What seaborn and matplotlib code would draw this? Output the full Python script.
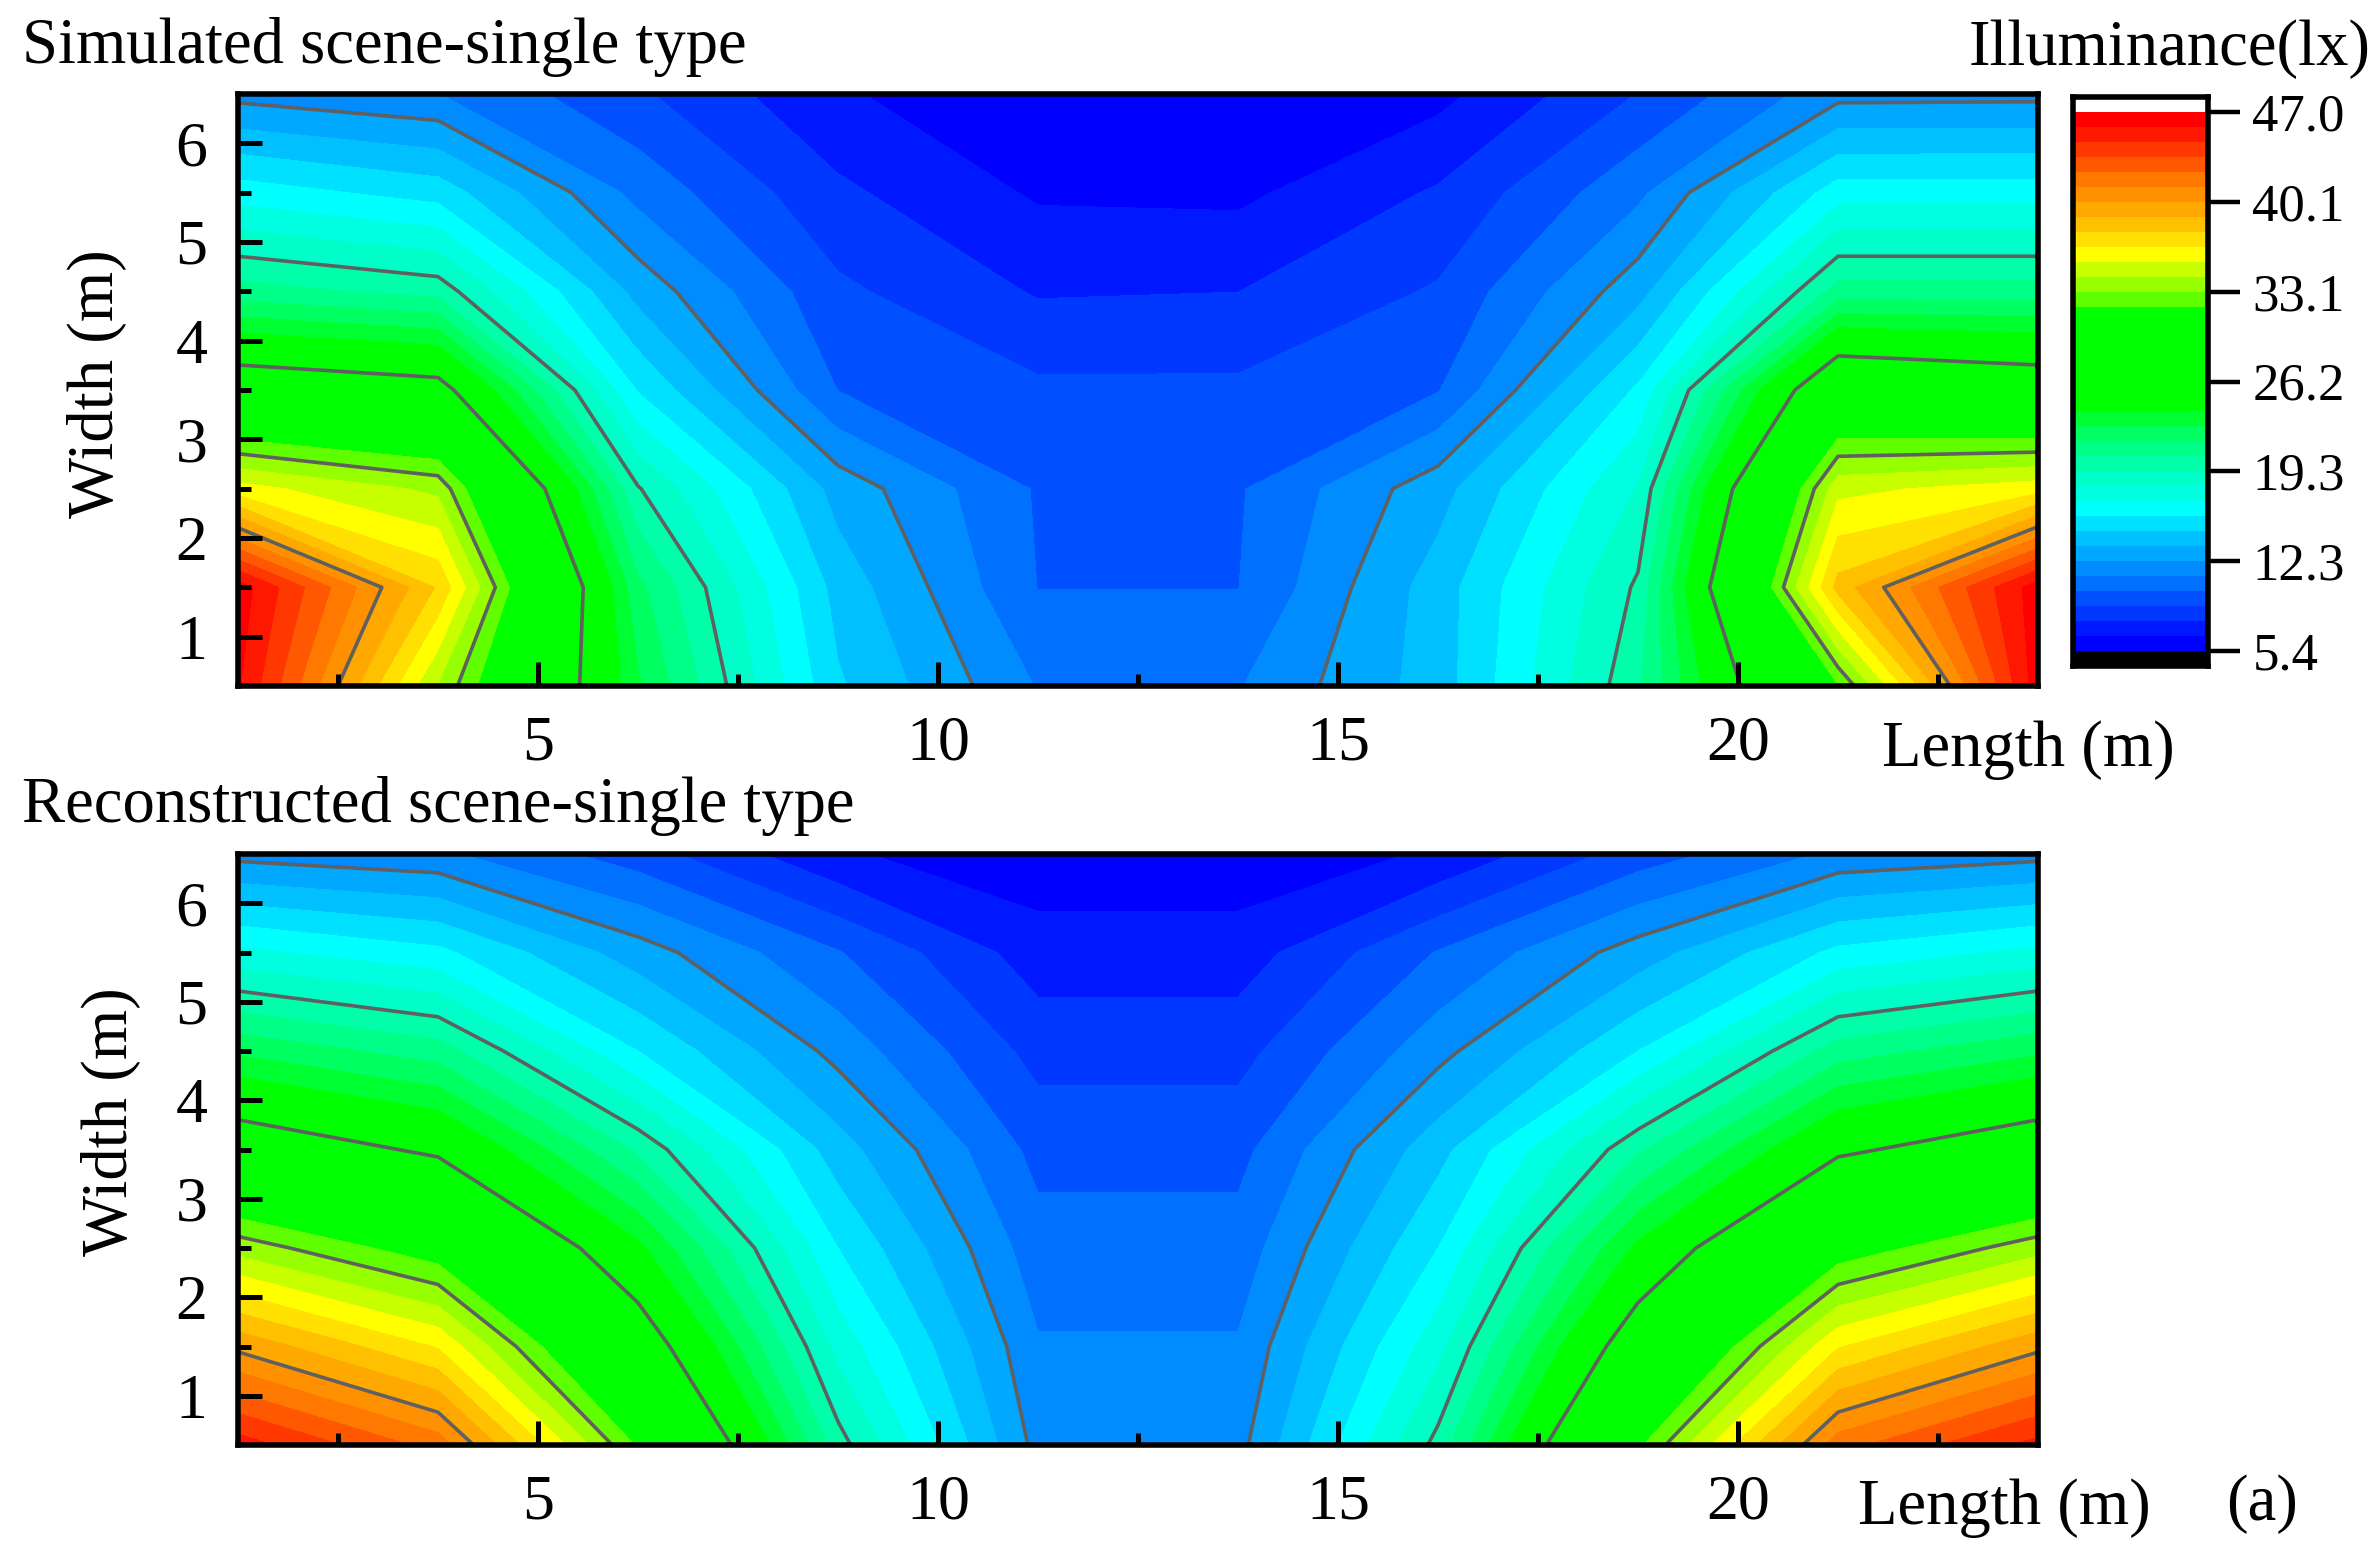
import numpy as np
import pandas as pd
import matplotlib.pyplot as plt
import seaborn as sns
from matplotlib.colors import ListedColormap, BoundaryNorm

sns.set_theme(style='ticks')
plt.rcParams['font.family'] = ['Liberation Serif', 'DejaVu Serif']
plt.rcParams['text.color'] = 'black'
plt.rcParams['axes.edgecolor'] = 'black'
plt.rcParams['xtick.color'] = 'black'
plt.rcParams['ytick.color'] = 'black'

# grid of the measured points
length = [1.25, 3.75, 6.25, 8.75, 11.25, 13.75, 16.25, 18.75, 21.25, 23.75]
width = [0.5, 1.5, 2.5, 3.5, 4.5, 5.5, 6.5]

# one row per width
simulated = [
    [46.0, 34.2, 22.9, 14.8, 11.1, 11.1, 14.05, 20.2, 31.9, 46.5],
    [46.5, 37.6, 21.9, 14.2, 10.0, 10.0, 14.05, 19.5, 38.2, 46.5],
    [35.9, 34.0, 19.4, 13.0, 9.9, 9.9, 13.0, 18.2, 35.1, 36.1],
    [28.0, 27.1, 15.7, 10.0, 9.1, 9.1, 9.95, 16.0, 29.0, 28.0],
    [20.9, 20.0, 13.05, 9.1, 7.6, 7.7, 9.0, 13.0, 20.9, 20.9],
    [16.4, 15.3, 10.8, 7.95, 6.4, 6.3, 7.85, 10.9, 16.4, 16.4],
    [11.9, 11.2, 9.05, 6.7, 5.6, 5.5, 6.2, 8.9, 11.9, 11.95],
]
reconstructed = [
    [45.3, 41.9, 31.8, 19.8, 11.9, 11.9, 19.7, 31.7, 41.9, 45.1],
    [39.8, 36.5, 27.8, 17.7, 11.3, 11.3, 17.7, 27.8, 36.5, 39.8],
    [33.8, 31.1, 24.2, 15.8, 10.5, 10.5, 15.8, 24.2, 31.1, 33.8],
    [27.8, 25.8, 20.2, 14.0, 9.65, 9.65, 14.2, 20.2, 25.8, 27.8],
    [22.5, 21.0, 15.8, 11.9, 8.45, 8.45, 11.9, 15.8, 21.0, 22.5],
    [17.25, 16.1, 12.85, 10.1, 7.1, 7.1, 10.1, 12.85, 16.1, 17.25],
    [11.9, 11.4, 9.4, 6.7, 5.8, 5.8, 6.7, 9.4, 11.4, 11.9],
]

z_min = 5.4
z_max = 47.0
n_bands = 36
major_levels = [12.3, 19.3, 26.2, 33.1, 40.1]
cbar_ticks = ['47.0', '40.1', '33.1', '26.2', '19.3', '12.3', '5.4']

band_colors = ['#0000ff', '#0018ff', '#0038ff', '#0050ff', '#0070ff', '#008cff',
               '#00a8ff', '#00c0ff', '#00e0ff', '#00ffff',
               '#00ffe0', '#00ffc8', '#00ffa8', '#00ff88', '#00ff60', '#00ff30',
               '#00ff00', '#00ff00', '#00ff00', '#00ff00', '#00ff00', '#00ff00', '#00ff00',
               '#60ff00', '#98ff00', '#c8ff00', '#ffff00',
               '#ffe000', '#ffc000', '#ffa800', '#ff9000', '#ff7800', '#ff5800',
               '#ff3800', '#ff1800', '#ff0000']

W, H = 2378, 1553
LW = 4.0
levels = np.linspace(z_min, z_max, n_bands + 1)


def px_axes(fig, left, top, right, bottom):
    return fig.add_axes([left / W, 1 - bottom / H, (right - left) / W, (bottom - top) / H])


def contour_panel(ax, values):
    ax.contourf(length, width, values, levels=levels, colors=band_colors)
    ax.contour(length, width, values, levels=major_levels, colors='#606060', linewidths=2.6)
    ax.set_axisbelow(False)
    ax.set_xlim(1.25, 23.75)
    ax.set_ylim(0.5, 6.5)
    ax.set_xticks([5, 10, 15, 20])
    ax.set_xticks([2.5, 7.5, 12.5, 17.5, 22.5], minor=True)
    ax.set_yticks([1, 2, 3, 4, 5, 6])
    ax.set_yticks([1.5, 2.5, 3.5, 4.5, 5.5], minor=True)
    ax.tick_params(which='major', direction='in', length=17, width=3.6, labelsize=46, pad=21)
    ax.tick_params(which='minor', direction='in', length=9, width=3.6)
    ax.tick_params(axis='y', which='major', pad=22, labelsize=46)
    for s in ax.spines.values():
        s.set_linewidth(LW)
        s.set_zorder(5)


fig = plt.figure(figsize=(W / 100, H / 100), dpi=100)

ax1 = px_axes(fig, 238, 94, 2038, 686)
contour_panel(ax1, simulated)
ax2 = px_axes(fig, 238, 854, 2038, 1445)
contour_panel(ax2, reconstructed)

# colour bar as a one column heatmap, white and black caps on the ends
step = (z_max - z_min) / n_bands
mids = np.concatenate([[z_max + step / 2], (levels[:-1] + step / 2)[::-1], [z_min - step / 2]])
edges = np.linspace(z_min - step, z_max + step, n_bands + 3)
cbar_cmap = ListedColormap(['black'] + band_colors + ['white'])
cax = px_axes(fig, 2073, 97, 2208, 666)
sns.heatmap(pd.DataFrame(mids), ax=cax, cmap=cbar_cmap, norm=BoundaryNorm(edges, n_bands + 2),
            cbar=False, xticklabels=False, yticklabels=False)
cax.set_yticks(np.arange(1, 38, 6))
cax.set_yticklabels(cbar_ticks, rotation=0)
cax.yaxis.tick_right()
cax.tick_params(axis='y', direction='out', length=23, width=3.2, labelsize=38, pad=9)
for s in cax.spines.values():
    s.set_visible(True)
    s.set_linewidth(LW)

fs = 46.5
fig.text(22 / W, 1 - 47 / H, 'Simulated scene-single type', fontsize=fs, va='center', ha='left')
fig.text(22 / W, 1 - 806 / H, 'Reconstructed scene-single type', fontsize=fs, va='center', ha='left')
fig.text(2371 / W, 1 - 49 / H, 'Illuminance(lx)', fontsize=fs, va='center', ha='right')
fig.text(1882 / W, 1 - 750 / H, 'Length (m)', fontsize=fs, va='center', ha='left')
fig.text(1858 / W, 1 - 1508 / H, 'Length (m)', fontsize=fs, va='center', ha='left')
fig.text(2226 / W, 1 - 1504 / H, '(a)', fontsize=fs, va='center', ha='left')
fig.text(97 / W, 1 - 384 / H, 'Width (m)', fontsize=fs, rotation=90, va='center', ha='center')
fig.text(111 / W, 1 - 1122 / H, 'Width (m)', fontsize=fs, rotation=90, va='center', ha='center')

fig.savefig('out.png', dpi=100)
